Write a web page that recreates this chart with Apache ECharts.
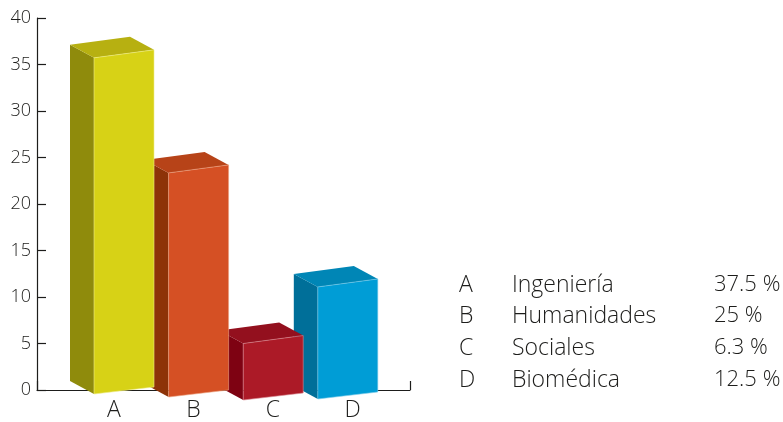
<!DOCTYPE html>
<html><head><meta charset="utf-8">
<style>html,body{margin:0;padding:0;background:#fff}#c{width:783px;height:422px}</style>
<script src="https://cdn.jsdelivr.net/npm/echarts@6/dist/echarts.min.js"></script>
</head><body><div id="c"></div>
<script>
const categories = ['A','B','C','D'];
const names = ['Ingeniería','Humanidades','Sociales','Biomédica'];
const values = [37.5,25,6.3,12.5];
const percentLabels = ['37.5 %','25 %','6.3 %','12.5 %'];
const frontColors = ['#D7D216','#D55024','#AC1A27','#009DD6'];
const sideColors = ['#8F8B0C','#8D3308','#7E0212','#006F99'];
const topColors = ['#B7B011','#B74318','#93101E','#0086B6'];
const edgeColors = ['#EFEC8A','#EDA583','#D98A92','#7FCDEA'];
const baseDrop = [4,7,10,9];

const FONT = '"Open Sans"';
const INK = '#1d1d1b';
const chart = echarts.init(document.getElementById('c'), null, {renderer:'canvas'});
const T = 18, H = 372;

function renderBar(params, api){
  const i = api.value(0), v = api.value(1);
  const p0 = api.coord([i,0]), p1 = api.coord([i,v]);
  const w = 60, dx = 24, dyBack = 13, slant = 8;
  const drop = baseDrop[i];
  const xl = p0[0]-w/2, xr = xl+w;
  const yb = p0[1]+drop, yt = p1[1]+drop;
  const ybr = yb-7, ytr = yt-slant;
  const poly = (pts,fill,stroke)=>({type:'polygon',shape:{points:pts},style:{fill,stroke,lineWidth:stroke?0.6:0}});
  return {type:'group',children:[
    poly([[xl-dx,yt-dyBack],[xl,yt],[xl,yb],[xl-dx,yb-dyBack]],sideColors[i]),
    poly([[xl-dx,yt-dyBack],[xl-dx+w,ytr-dyBack],[xr,ytr],[xl,yt]],topColors[i]),
    poly([[xl,yt],[xr,ytr],[xr,ybr],[xl,yb]],frontColors[i],edgeColors[i])
  ]};
}

const rowY = [285,316,348,380];
const graphics = [];
categories.forEach((c,i)=>{
  [[c,459,23],[names[i],512,23],[percentLabels[i],714,22]].forEach(([t,x,s])=>{
    graphics.push({type:'text',x,y:rowY[i],style:{text:t,fill:INK,font:'300 '+s+'px '+FONT,textVerticalAlign:'middle'}});
  });
});

chart.setOption({
  animation:false,
  backgroundColor:'#fff',
  graphic:graphics,
  grid:[
    {left:37,top:T,width:373,height:H},
    {left:74.25,top:T,width:318,height:H},
    {left:86.7,top:T,width:298.4,height:H}
  ],
  xAxis:[
    {gridIndex:0,type:'value',min:0,max:1,interval:1,
     axisLine:{lineStyle:{color:INK,width:1.2}},
     axisTick:{inside:true,length:9,lineStyle:{color:INK,width:1.2}},
     axisLabel:{show:false},splitLine:{show:false}},
    {gridIndex:1,type:'category',data:categories,
     axisLine:{show:false},axisTick:{show:false},
     axisLabel:{color:INK,fontFamily:FONT,fontWeight:300,fontSize:23,margin:11}},
    {gridIndex:2,type:'category',data:categories,show:false}
  ],
  yAxis:[
    {gridIndex:0,type:'value',min:0,max:40,interval:5,
     axisLine:{show:true,lineStyle:{color:INK,width:1.2}},
     axisTick:{show:true,inside:true,length:9,lineStyle:{color:INK,width:1.2}},
     axisLabel:{color:INK,fontFamily:FONT,fontWeight:300,fontSize:18,margin:6},splitLine:{show:false}},
    {gridIndex:1,type:'value',min:0,max:40,show:false},
    {gridIndex:2,type:'value',min:0,max:41.5,show:false}
  ],
  series:[{
    type:'custom',xAxisIndex:2,yAxisIndex:2,clip:false,z:5,
    renderItem:renderBar,
    encode:{x:0,y:1},
    data:values.map((v,i)=>[i,v]).reverse()
  }]
});
</script></body></html>
